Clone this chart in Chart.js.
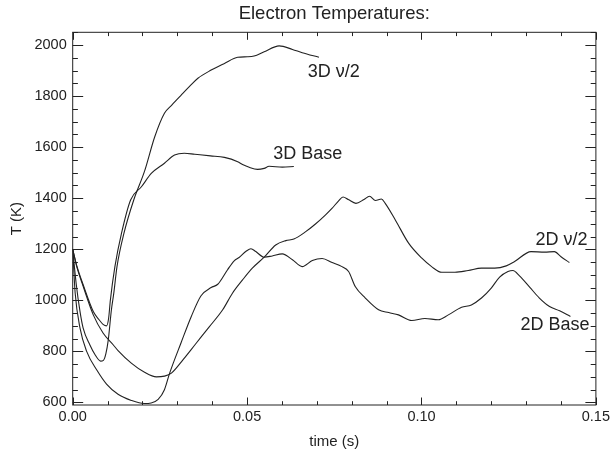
<!DOCTYPE html>
<html>
<head>
<meta charset="utf-8">
<script src="https://cdn.jsdelivr.net/npm/chart.js@4"></script>
<style>
  html, body { margin: 0; padding: 0; background: #fff; }
</style>
</head>
<body>
<canvas id="tempChart" width="613" height="451"></canvas>
<script>
// time (s) / electron temperature (K)
const base3dTime = [0, 0.0011, 0.003, 0.0059, 0.0075, 0.0087, 0.0097, 0.0103, 0.0108, 0.0121, 0.014, 0.0166, 0.0197, 0.0226, 0.0263, 0.0292, 0.032, 0.035, 0.0395, 0.0435, 0.0473, 0.0487, 0.0506, 0.053, 0.0549, 0.0563, 0.0601, 0.0634];
const base3dTemp = [1200, 1139, 1061, 956, 925, 906, 900, 930, 1001, 1132, 1263, 1393, 1445, 1498, 1537, 1569, 1576, 1572, 1566, 1560, 1543, 1532, 1521, 1513, 1517, 1525, 1522, 1524];

const half3dTime = [0, 0.001, 0.0021, 0.003, 0.0049, 0.0065, 0.008, 0.0088, 0.0095, 0.0102, 0.0111, 0.0118, 0.0127, 0.0147, 0.0175, 0.0206, 0.0235, 0.0263, 0.0284, 0.0311, 0.0335, 0.0359, 0.0397, 0.0435, 0.0473, 0.0501, 0.052, 0.0549, 0.0592, 0.063, 0.0658, 0.0706];
const half3dTemp = [1200, 1065, 956, 891, 826, 785, 762, 765, 790, 845, 963, 1030, 1132, 1263, 1393, 1506, 1640, 1733, 1765, 1804, 1838, 1870, 1902, 1928, 1952, 1954, 1957, 1974, 1997, 1983, 1970, 1952];

const base2dTime = [0, 0.0007, 0.0021, 0.004, 0.007, 0.0097, 0.013, 0.0168, 0.0205, 0.0225, 0.0245, 0.0263, 0.0278, 0.0311, 0.034, 0.0368, 0.0397, 0.0416, 0.0444, 0.0463, 0.0477, 0.0497, 0.0511, 0.0525, 0.0549, 0.0572, 0.0601, 0.063, 0.0658, 0.0687, 0.0715, 0.0744, 0.0772, 0.0791, 0.081, 0.0839, 0.0877, 0.0906, 0.0934, 0.0972, 0.101, 0.1048, 0.1077, 0.1115, 0.1143, 0.1172, 0.12, 0.1224, 0.1248, 0.1262, 0.1281, 0.131, 0.1338, 0.1367, 0.1396, 0.1427];
const base2dTemp = [1200, 1030, 891, 800, 725, 672, 632, 608, 596, 598, 612, 650, 715, 835, 937, 1018, 1050, 1063, 1120, 1155, 1168, 1192, 1202, 1191, 1169, 1174, 1182, 1159, 1132, 1156, 1164, 1148, 1132, 1113, 1054, 1009, 963, 952, 943, 921, 929, 924, 943, 973, 982, 1009, 1048, 1091, 1113, 1117, 1096, 1052, 1009, 976, 959, 937];

const half2dTime = [0, 0.0011, 0.003, 0.0059, 0.0087, 0.0116, 0.013, 0.0168, 0.0206, 0.024, 0.0263, 0.0283, 0.0316, 0.0354, 0.0392, 0.043, 0.0458, 0.0487, 0.0515, 0.0549, 0.0582, 0.0611, 0.0634, 0.0668, 0.0696, 0.0725, 0.0744, 0.0763, 0.0775, 0.079, 0.0812, 0.0835, 0.0851, 0.0868, 0.0885, 0.0896, 0.0925, 0.0963, 0.1001, 0.1029, 0.1058, 0.1096, 0.1134, 0.1172, 0.121, 0.1243, 0.1267, 0.1314, 0.1353, 0.1381, 0.14, 0.1424];
const half2dTemp = [1200, 1135, 1055, 943, 872, 826, 803, 754, 718, 700, 703, 715, 767, 832, 897, 963, 1028, 1080, 1126, 1169, 1217, 1234, 1240, 1269, 1299, 1335, 1361, 1391, 1405, 1395, 1380, 1395, 1408, 1391, 1397, 1380, 1315, 1224, 1165, 1132, 1110, 1110, 1117, 1126, 1126, 1135, 1152, 1191, 1189, 1191, 1171, 1148];

const seriesNames = ['3D Base', '3D \u03bd/2', '2D Base', '2D \u03bd/2'];
const xTickValues = [0, 0.05, 0.10, 0.15];
const yTickValues = [600, 800, 1000, 1200, 1400, 1600, 1800, 2000];

const FONT = '"Liberation Sans", Arial, Helvetica, sans-serif';
const INK = '#222';

const toPoints = (ts, vs) => ts.map((t, i) => ({ x: t, y: vs[i] }));

// curve names written next to the line ends (data coords)
const curveLabels = [
  { text: seriesNames[1], x: 0.0674, y: 1894, align: 'left' },
  { text: seriesNames[0], x: 0.0575, y: 1573, align: 'left' },
  { text: seriesNames[3], x: 0.1476, y: 1237, align: 'right' },
  { text: seriesNames[2], x: 0.1482, y: 904, align: 'right' },
];

// IDL-style box with inward ticks on all four sides
const frameTicks = {
  id: 'frameTicks',
  afterDatasetsDraw(chart) {
    const { ctx, chartArea: a, scales: { x, y } } = chart;
    ctx.save();
    ctx.strokeStyle = INK;
    ctx.lineWidth = 1;
    ctx.strokeRect(a.left, a.top, a.right - a.left, a.bottom - a.top);
    ctx.beginPath();
    for (let i = 0; i <= 15; i++) {
      const px = Math.round(x.getPixelForValue(i / 100)) + 0.5;
      const len = i % 5 === 0 ? 7.5 : 3.8;
      ctx.moveTo(px, a.bottom); ctx.lineTo(px, a.bottom - len);
      ctx.moveTo(px, a.top); ctx.lineTo(px, a.top + len);
    }
    for (let v = 600; v <= 2050; v += 50) {
      const py = Math.round(y.getPixelForValue(v)) + 0.5;
      const len = v % 200 === 0 ? 10.5 : 5.2;
      ctx.moveTo(a.left, py); ctx.lineTo(a.left + len, py);
      ctx.moveTo(a.right, py); ctx.lineTo(a.right - len, py);
    }
    ctx.stroke();

    ctx.fillStyle = INK;
    ctx.font = '18px ' + FONT;
    ctx.textBaseline = 'middle';
    curveLabels.forEach(l => {
      ctx.textAlign = l.align;
      ctx.fillText(l.text, x.getPixelForValue(l.x), y.getPixelForValue(l.y));
    });
    ctx.restore();
  }
};

const lineStyle = {
  borderColor: INK,
  borderWidth: 1.1,
  pointRadius: 0,
  fill: false,
  cubicInterpolationMode: 'monotone',
};

new Chart(document.getElementById('tempChart'), {
  type: 'line',
  data: {
    datasets: [
      { label: seriesNames[0], data: toPoints(base3dTime, base3dTemp), ...lineStyle },
      { label: seriesNames[1], data: toPoints(half3dTime, half3dTemp), ...lineStyle },
      { label: seriesNames[2], data: toPoints(base2dTime, base2dTemp), ...lineStyle },
      { label: seriesNames[3], data: toPoints(half2dTime, half2dTemp), ...lineStyle },
    ],
  },
  options: {
    responsive: false,
    devicePixelRatio: 1,
    animation: false,
    layout: { padding: { left: 0, right: 14.7, top: 0, bottom: 0 } },
    plugins: {
      legend: { display: false },
      tooltip: { enabled: false },
      title: {
        display: true,
        text: 'Electron Temperatures:',
        fullSize: false,
        color: INK,
        font: { family: FONT, size: 18.5, weight: 'normal', lineHeight: 1.2 },
        padding: { top: 2.5, bottom: 7.6 },
      },
    },
    scales: {
      x: {
        type: 'linear',
        min: 0,
        max: 0.15,
        afterBuildTicks: s => { s.ticks = xTickValues.map(v => ({ value: v })); },
        afterFit: s => { s.height = 46; },
        grid: { display: false, drawTicks: false },
        border: { display: false },
        ticks: {
          color: INK,
          padding: 3,
          maxRotation: 0,
          font: { family: FONT, size: 14.5 },
          callback: v => v.toFixed(2),
        },
        title: {
          display: true,
          text: 'time (s)',
          color: INK,
          font: { family: FONT, size: 15, lineHeight: 1.2 },
          padding: { top: 5, bottom: 0 },
        },
      },
      y: {
        type: 'linear',
        min: 590,
        max: 2050,
        afterBuildTicks: s => { s.ticks = yTickValues.map(v => ({ value: v })); },
        afterFit: s => { s.width = 72.7; },
        grid: { display: false, drawTicks: false },
        border: { display: false },
        ticks: {
          color: INK,
          padding: 6,
          font: { family: FONT, size: 14.5 },
          callback: v => String(v),
        },
        title: {
          display: true,
          text: 'T (K)',
          color: INK,
          font: { family: FONT, size: 15, lineHeight: 1.2 },
          padding: { top: 8, bottom: 0 },
        },
      },
    },
  },
  plugins: [frameTicks],
});
</script>
</body>
</html>
